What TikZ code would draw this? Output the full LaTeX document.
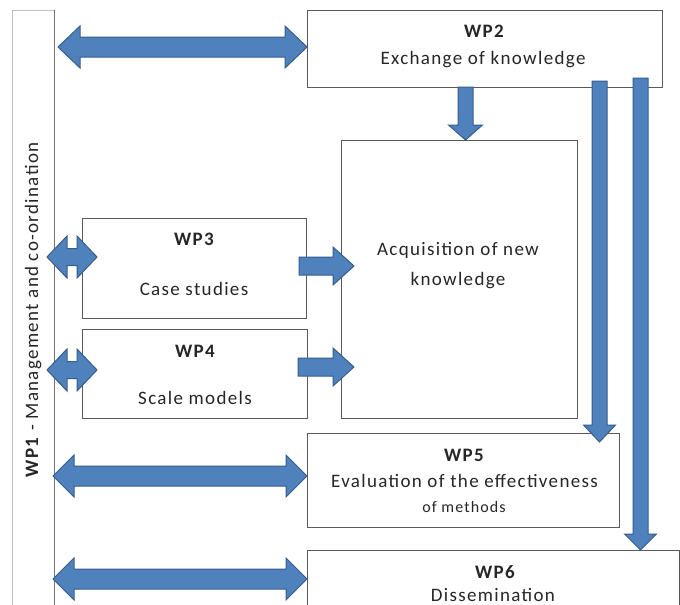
\documentclass[tikz,border=0pt]{standalone}
\usepackage{fontspec}
\setmainfont{Carlito}[LetterSpace=7]
\usetikzlibrary{calc}
\definecolor{arrfill}{HTML}{4F81BD}
\definecolor{arrline}{HTML}{385D8A}
\definecolor{boxline}{HTML}{5A5A5A}
\definecolor{txtcol}{HTML}{262626}
\tikzset{
  wpbox/.style={draw=boxline, line width=0.9pt, fill=white, rectangle, inner sep=0pt, anchor=north west},
  blk/.style={fill=arrfill, draw=arrline, line width=1pt, line join=miter},
  txt/.style={font=\fontsize{19}{22}\selectfont, text=txtcol, inner sep=0pt, anchor=base},
  ttl/.style={txt, font=\fontsize{19}{22}\selectfont\bfseries},
  sml/.style={txt, font=\fontsize{16}{19}\selectfont},
}
% single block arrow: start, end, shaft half width, head half width, head length
\newcommand\sarrow[5]{%
  \coordinate (ahS) at ($(#2)!#5!(#1)$);
  \draw[blk] ($(#1)!#3!90:(#2)$) -- ($(ahS)!#3!90:(#2)$) -- ($(ahS)!#4!90:(#2)$) -- (#2)
    -- ($(ahS)!#4!-90:(#2)$) -- ($(ahS)!#3!-90:(#2)$) -- ($(#1)!#3!-90:(#2)$) -- cycle;}
% double block arrow
\newcommand\darrow[5]{%
  \coordinate (ahA) at ($(#1)!#5!(#2)$);
  \coordinate (ahB) at ($(#2)!#5!(#1)$);
  \draw[blk] (#1) -- ($(ahA)!#4!90:(#2)$) -- ($(ahA)!#3!90:(#2)$) -- ($(ahB)!#3!90:(#2)$)
    -- ($(ahB)!#4!90:(#2)$) -- (#2) -- ($(ahB)!#4!-90:(#2)$) -- ($(ahB)!#3!-90:(#2)$)
    -- ($(ahA)!#3!-90:(#2)$) -- ($(ahA)!#4!-90:(#2)$) -- cycle;}
\begin{document}
\begin{tikzpicture}[x=1pt,y=-1pt]
\useasboundingbox (0,0) rectangle (680,605);
\clip (0,0) rectangle (680,605);
\fill[white] (0,0) rectangle (680,605);

% boxes
\node[wpbox, draw=black!25, minimum width=42pt, minimum height=620pt] (wp1) at (12,10) {};
\draw[black!55, line width=0.9pt] (wp1.north east) -- (wp1.south east);
\node[wpbox, minimum width=355pt, minimum height=77pt] (wp2) at (307,10) {};
\node[wpbox, minimum width=236pt, minimum height=278pt] (acq) at (341,140) {};
\node[wpbox, minimum width=224pt, minimum height=100pt] (wp3) at (82,218) {};
\node[wpbox, minimum width=225pt, minimum height=89pt] (wp4) at (82,329) {};
\node[wpbox, minimum width=312pt, minimum height=94pt] (wp5) at (307,433) {};
\node[wpbox, minimum width=372pt, minimum height=80pt] (wp6) at (307,550) {};

% texts
\node[txt, rotate=90] (t1) at (38,310) {\textbf{WP1} - Management and co-ordination};
\node[ttl] (t2a) at (484,37) {WP2};
\node[txt] (t2b) at (483,64) {Exchange of knowledge};
\node[txt] (tqa) at (458,255) {Acquisition of new};
\node[txt] (tqb) at (458,285) {knowledge};
\node[ttl] (t3a) at (194,245) {WP3};
\node[txt] (t3b) at (194,295) {Case studies};
\node[ttl] (t4a) at (195,357) {WP4};
\node[txt] (t4b) at (195,404) {Scale models};
\node[ttl] (t5a) at (464,461) {WP5};
\node[txt] (t5b) at (464.5,487) {Evaluation of the effectiveness};
\node[sml] (t5c) at (464,512) {of methods};
\node[ttl] (t6a) at (495,578) {WP6};
\node[txt] (t6b) at (493,601.5) {Dissemination};

% arrow end points
\coordinate (a1s) at (58,47);   \coordinate (a1e) at (wp2.west |- a1s);
\coordinate (a2s) at (465.5,87); \coordinate (a2e) at (acq.north -| a2s);
\coordinate (a3s) at (599.5,81); \coordinate (a3e) at (599.5,442);
\coordinate (a4s) at (640.5,78); \coordinate (a4e) at (wp6.north -| a4s);
\coordinate (a5s) at (47,257);  \coordinate (a5e) at (97,257);
\coordinate (a6s) at (47,370);  \coordinate (a6e) at (97,370);
\coordinate (a7s) at (299,266); \coordinate (a7e) at (354,266);
\coordinate (a8s) at (298,367); \coordinate (a8e) at (354,367);
\coordinate (a9s) at (53,476);  \coordinate (a9e) at (wp5.west |- a9s);
\coordinate (a10s) at (53,579); \coordinate (a10e) at (wp6.west |- a10s);

% arrows
\darrow{a1s}{a1e}{10pt}{21pt}{22pt}
\sarrow{a2s}{a2e}{7.5pt}{17pt}{15pt}
\sarrow{a3s}{a3e}{7.5pt}{16pt}{17pt}
\sarrow{a4s}{a4e}{7.5pt}{16pt}{16pt}
\darrow{a5s}{a5e}{8.5pt}{21pt}{20pt}
\darrow{a6s}{a6e}{8.5pt}{21pt}{20pt}
\sarrow{a7s}{a7e}{9pt}{19pt}{21pt}
\sarrow{a8s}{a8e}{9pt}{19pt}{21pt}
\darrow{a9s}{a9e}{10pt}{21pt}{21pt}
\darrow{a10s}{a10e}{10pt}{21pt}{21pt}
\end{tikzpicture}
\end{document}
